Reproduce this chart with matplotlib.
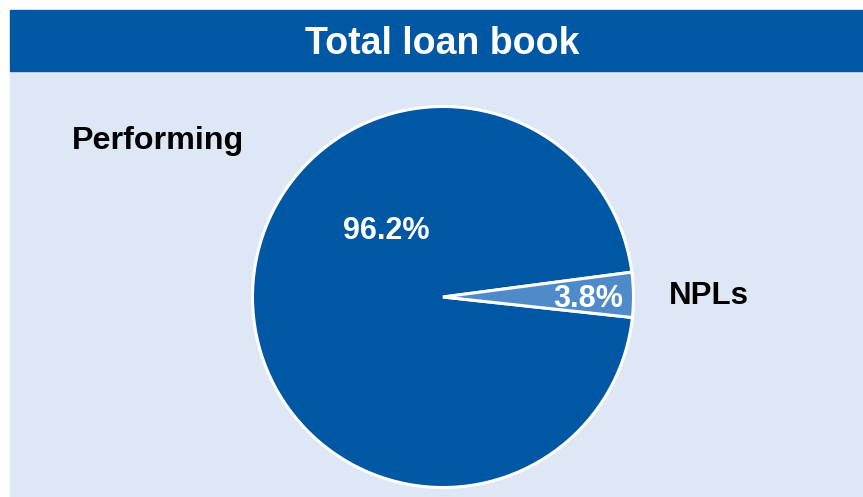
import matplotlib
matplotlib.use("Agg")
import matplotlib.pyplot as plt
from matplotlib.patches import Rectangle

plt.rcParams['font.family'] = ['Liberation Sans', 'DejaVu Sans']

title = "Total loan book"
categories = ["Performing", "NPLs"]
shares = [96.2, 3.8]

dark_blue = "#0057A3"
light_blue = "#4F8AC9"
panel_bg = "#DEE7F5"

W, H = 863, 497
fig = plt.figure(figsize=(W / 100, H / 100), dpi=100)
fig.patch.set_facecolor("white")

# axes spanning the whole figure, one data unit = one pixel
ax = fig.add_axes([0, 0, 1, 1])
ax.set_facecolor("none")

# panel background and title bar
ax.add_patch(Rectangle((10, 0), W - 10, H - 71, color=panel_bg, zorder=0))
ax.add_patch(Rectangle((10, H - 71), W - 10, 61, color=dark_blue, zorder=0))
ax.text(442, H - 54, title, color="white", fontsize=27,
        fontweight="bold", ha="center", va="baseline")

wedges, _ = ax.pie(shares, colors=[dark_blue, light_blue], startangle=7.5,
                   center=(443, H - 297), radius=190.5,
                   wedgeprops=dict(edgecolor="white", linewidth=2.2, zorder=2))
ax.set_xlim(0, W)
ax.set_ylim(0, H)
ax.set_aspect("equal")
ax.axis("off")

# percentage labels
ax.text(343, H - 239, f"{shares[0]}%", color="white", fontsize=22,
        fontweight="bold", ha="left", va="baseline", zorder=3)
ax.text(553, H - 307, f"{shares[1]}%", color="white", fontsize=22,
        fontweight="bold", ha="left", va="baseline", zorder=3)

# category labels
ax.text(72, H - 149, categories[0], color="black", fontsize=23.2,
        fontweight="bold", ha="left", va="baseline", zorder=3)
ax.text(669, H - 304, categories[1], color="black", fontsize=22.5,
        fontweight="bold", ha="left", va="baseline", zorder=3)

fig.savefig("out.png", dpi=100)
